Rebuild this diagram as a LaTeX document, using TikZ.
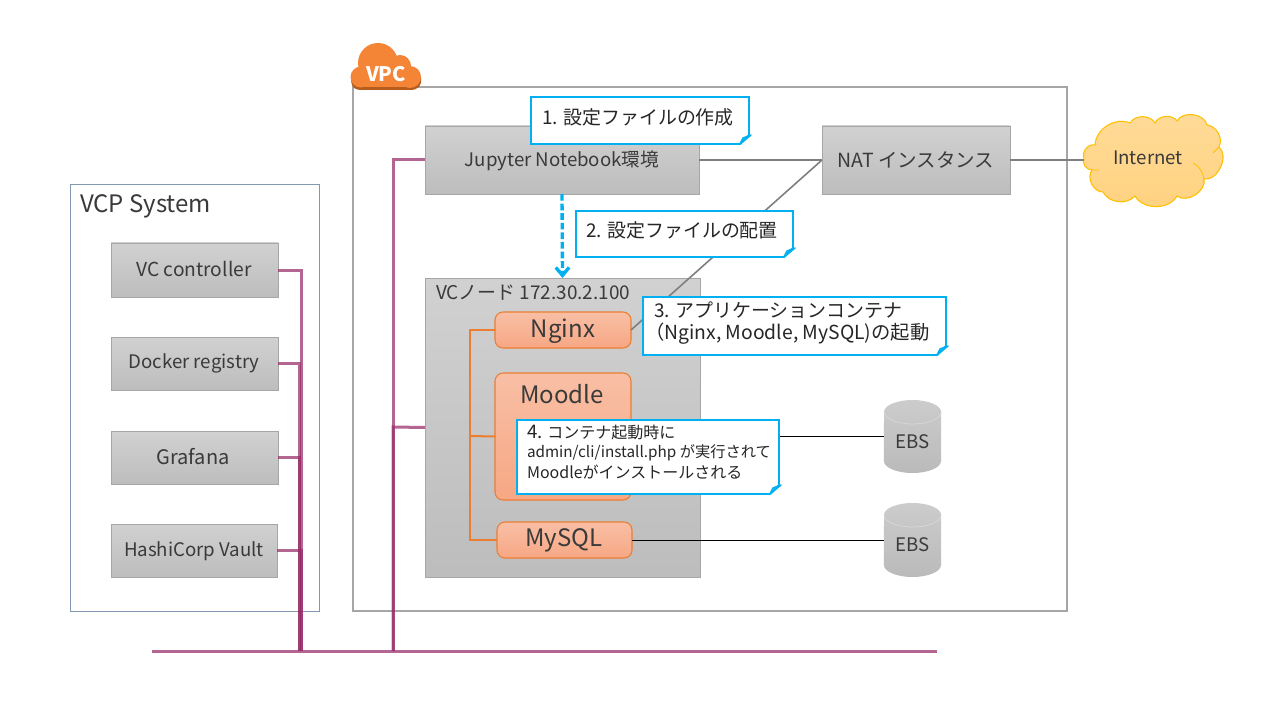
\documentclass[tikz,border=0pt]{standalone}
\usepackage{fontspec}
\setmainfont{Noto Sans CJK JP}
\usetikzlibrary{arrows.meta,calc}
\definecolor{txt}{HTML}{3A3A3A}
\definecolor{bluec}{HTML}{00B0F0}
\definecolor{orangec}{HTML}{ED7D31}
\definecolor{busc}{HTML}{962C68}
\definecolor{grayl}{HTML}{7F7F7F}
\definecolor{vpcb}{HTML}{A6A6A6}
\definecolor{vcpb}{HTML}{8497B0}
\definecolor{conttop}{HTML}{F8BFA5}
\definecolor{contbot}{HTML}{F7A784}
\definecolor{awso}{HTML}{F58536}
\definecolor{awsd}{HTML}{B85C1E}
\definecolor{cloudt}{HTML}{FFDB99}
\definecolor{cloudb}{HTML}{FFD27F}
\definecolor{cloudl}{HTML}{FFC000}
\tikzset{
  x=0.75pt,y=-0.75pt,
  every node/.style={inner sep=0pt,outer sep=0pt,text=txt,font=\fontsize{14}{16}\selectfont},
  sz/.style 2 args={minimum width=#1*0.75pt,minimum height=#2*0.75pt},
  graybox/.style={draw=vpcb,line width=.7pt,top color=black!18,bottom color=black!26,shape=rectangle},
  cont/.style={draw=orangec,line width=.8pt,rounded corners=6pt,top color=conttop,bottom color=contbot,shape=rectangle},
  callout/.style={draw=bluec,line width=1.6pt,fill=white,shape=rectangle},
  ctext/.style={anchor=west,align=left,text=black!85,font=\fontsize{14.2}{16}\selectfont},
  bus/.style={draw=busc,line width=2.25pt,opacity=.72},
  net/.style={draw=grayl,line width=1.5pt},
  blk/.style={draw=black,line width=.75pt},
  tree/.style={draw=orangec,line width=1.5pt},
  frame/.style={shape=rectangle,fill=white},
  conttext/.style={font=\fontsize{18}{20}\selectfont},
}
\newcommand{\fold}[1]{%
  \fill[white] ($(#1.south east)+(-9,1)$) -- ($(#1.south east)+(2,1)$) -- ($(#1.south east)+(2,-10)$) -- cycle;
  \draw[draw=bluec,line width=1.1pt,fill=bluec!35!white,line join=round] ($(#1.south east)+(-9,0)$) -- ($(#1.south east)+(-6,-6)$) -- ($(#1.south east)+(2,-9)$) -- cycle;
  \draw[draw=bluec,line width=1.6pt] ($(#1.south east)+(0,-9)$) -- ($(#1.south east)+(-9,0)$);
}
\newcommand{\ebs}[4]{% name, centre x, top y, bottom y
  \path[top color=black!20,bottom color=black!27] (#2-28.5,#3+12) arc[start angle=180,end angle=0,x radius=21.4pt,y radius=9pt]
     -- (#2+28.5,#4-12) arc[start angle=0,end angle=-180,x radius=21.4pt,y radius=9pt] -- cycle;
  \draw[white!85!black,line width=.5pt] (#2-28.5,#3+12) arc[start angle=180,end angle=360,x radius=21.4pt,y radius=9pt];
  \node[sz={57}{60}] (#1) at (#2,#3/2+#4/2) {};
  \node (#1t) at (#2,#3/2+#4/2+5) {EBS};
}
\begin{document}
\begin{tikzpicture}
\useasboundingbox (0,0) rectangle (1280,720);
\fill[white] (0,0) rectangle (1280,720);

% frames
\node[frame,draw=vcpb,line width=.75pt,sz={249}{426}] (vcp) at (195,398) {};
\node[anchor=west,font=\fontsize{18}{20}\selectfont] (vcpt) at (80,206) {VCP System};
\node[frame,draw=vpcb,line width=1.5pt,sz={714}{524}] (vpc) at (710,349) {};

% VPC icon
\fill[awsd] (351,78) .. controls (351,89) and (356,90) .. (362,90) -- (410,90) .. controls (418,90) and (422,86) .. (421,78) -- cycle;
\foreach \cx/\cy/\r in {378/63/20,400/66/11,361/77/10.5,410/77/11}{\fill[awso] (\cx,\cy) circle[radius=\r*0.75pt];}
\fill[awso] (362,70) rectangle (410,87.5);
\node[font=\bfseries\fontsize{15}{16}\selectfont,text=white] (vpct) at (386,74) {VPC};

% VC node
\node[graybox,sz={275}{299}] (vc) at (562.5,427.5) {};
\node[anchor=west,font=\fontsize{14.2}{16}\selectfont] (vct) at (436,293) {VCノード 172.30.2.100};

% top boxes
\node[graybox,sz={274}{68}] (jup) at (562,160) {};
\node (jupt) at (562,160.5) {Jupyter Notebook環境};
\node[graybox,sz={188}{68}] (nat) at (916,160) {};
\node[font=\fontsize{14.6}{16}\selectfont] (natt) at (916,160) {NAT インスタンス};

% system boxes
\node[graybox,sz={167}{54}] (ctl) at (194.5,270) {};
\node[font=\fontsize{14.4}{16}\selectfont] (ctlt) at (194,269) {VC controller};
\node[graybox,sz={167}{53}] (reg) at (194.5,363.5) {};
\node (regt) at (194,363) {Docker registry};
\node[graybox,sz={167}{53}] (gra) at (194.5,457.5) {};
\node[font=\fontsize{15}{16}\selectfont] (grat) at (193,457) {Grafana};
\node[graybox,sz={166}{53}] (vau) at (194,550.5) {};
\node (vaut) at (194,551) {HashiCorp Vault};

% bus
\coordinate (busl) at (152,651);
\coordinate (busr) at (937,651);
\draw[bus] (busl) -- (busr);
\draw[bus] (ctl.east) -- (301,270) -- (301,651);
\draw[bus] (reg.east) -- (299.5,363.5) -- (299.5,651);
\draw[bus] (gra.east) -- (299.5,457.5) -- (299.5,651);
\draw[bus] (vau.east) -- (301,550.5) -- (301,651);
\draw[bus] (jup.west) -- (393,160) -- (393,651);
\draw[bus] (vc.west) -- (393,427) -- (393,651);

% containers
\node[cont,sz={136}{36}] (ngx) at (563,330) {};
\node[conttext] (ngxt) at (563,331.5) {Nginx};
\node[cont,sz={136}{127}] (moo) at (563,436.5) {};
\node[conttext] (moot) at (562,394) {Moodle};
\node[cont,sz={135}{36}] (sql) at (564.5,540) {};
\node[conttext] (sqlt) at (564,540.5) {MySQL};

% orange tree
\draw[tree] (ngx.west) -- (470,330) -- (470,540) -- (sql.west);
\draw[tree] (470,436) -- (moo.west);

% EBS
\ebs{e1}{912.5}{400}{473}
\ebs{e2}{912.5}{503}{577}
\draw[blk] (moo.east) -- (e1.west |- moo.east);
\draw[blk] (sql.east) -- (e2.west |- sql.east);

% Internet cloud
\coordinate (inet) at (1084,158);
\coordinate (inetj) at (1084,160);
\path[draw=cloudl,line width=.8pt,top color=cloudt,bottom color=cloudb]
  (inet) to[bend left=65] (1095,145)
  to[bend left=55] (1130,123)
  to[bend left=60] (1155,123)
  to[bend left=60] (1177,121)
  to[bend left=70] (1207,125)
  to[bend left=55] (1219,147)
  to[bend left=75] (1204,179)
  to[bend left=70] (1177,196)
  to[bend left=60] (1135,196)
  to[bend left=55] (1103,192)
  to[bend left=65] (1092,170)
  to[bend left=60] (inet) -- cycle;
\draw[cloudl,line width=.6pt] (1092,170) -- (1099,170) (1219,147) -- (1213,153) (1204,179) .. controls (1203,172) and (1199,166) .. (1193,163);
\node (nett) at (1148,158) {Internet};

% network lines
\draw[net] (jup.east) -- (nat.west);
\draw[net] (nat.east) -- (inetj);
\draw[draw=grayl,line width=1.2pt] (nat.west) -- (ngx.east);

% dashed arrow
\draw[draw=bluec,line width=2.5pt,dash pattern=on 5pt off 2.2pt,-{Straight Barb[length=6pt,width=10pt,line width=2.5pt]}] (jup.south) -- (vc.north);

% callouts
\node[callout,sz={218}{47}] (c1) at (640,120.5) {};
\node[ctext] (c1t) at (542,117) {1. 設定ファイルの作成};
\fold{c1}
\node[callout,sz={217}{46}] (c2) at (684.5,234) {};
\node[ctext] (c2t) at (586,230) {2. 設定ファイルの配置};
\fold{c2}
\node[callout,sz={303}{58}] (c3) at (794.5,326) {};
\node[ctext] (c3at) at (654,310) {3. アプリケーションコンテナ};
\node[ctext,font=\fontsize{14.5}{16}\selectfont] (c3bt) at (645,334) {（Nginx, Moodle, MySQL)の起動};
\fold{c3}
\node[callout,sz={262}{74}] (c4) at (648,457) {};
\node[ctext,font=\fontsize{12}{14}\selectfont] (c4at) at (527,432) {{\fontsize{14}{16}\selectfont 4.} コンテナ起動時に};
\node[ctext,font=\fontsize{11.45}{14}\selectfont] (c4bt) at (527,453) {admin/cli/install.php が実行されて};
\node[ctext,font=\fontsize{12}{14}\selectfont] (c4ct) at (527,472) {Moodleがインストールされる};
\fold{c4}
\end{tikzpicture}
\end{document}
